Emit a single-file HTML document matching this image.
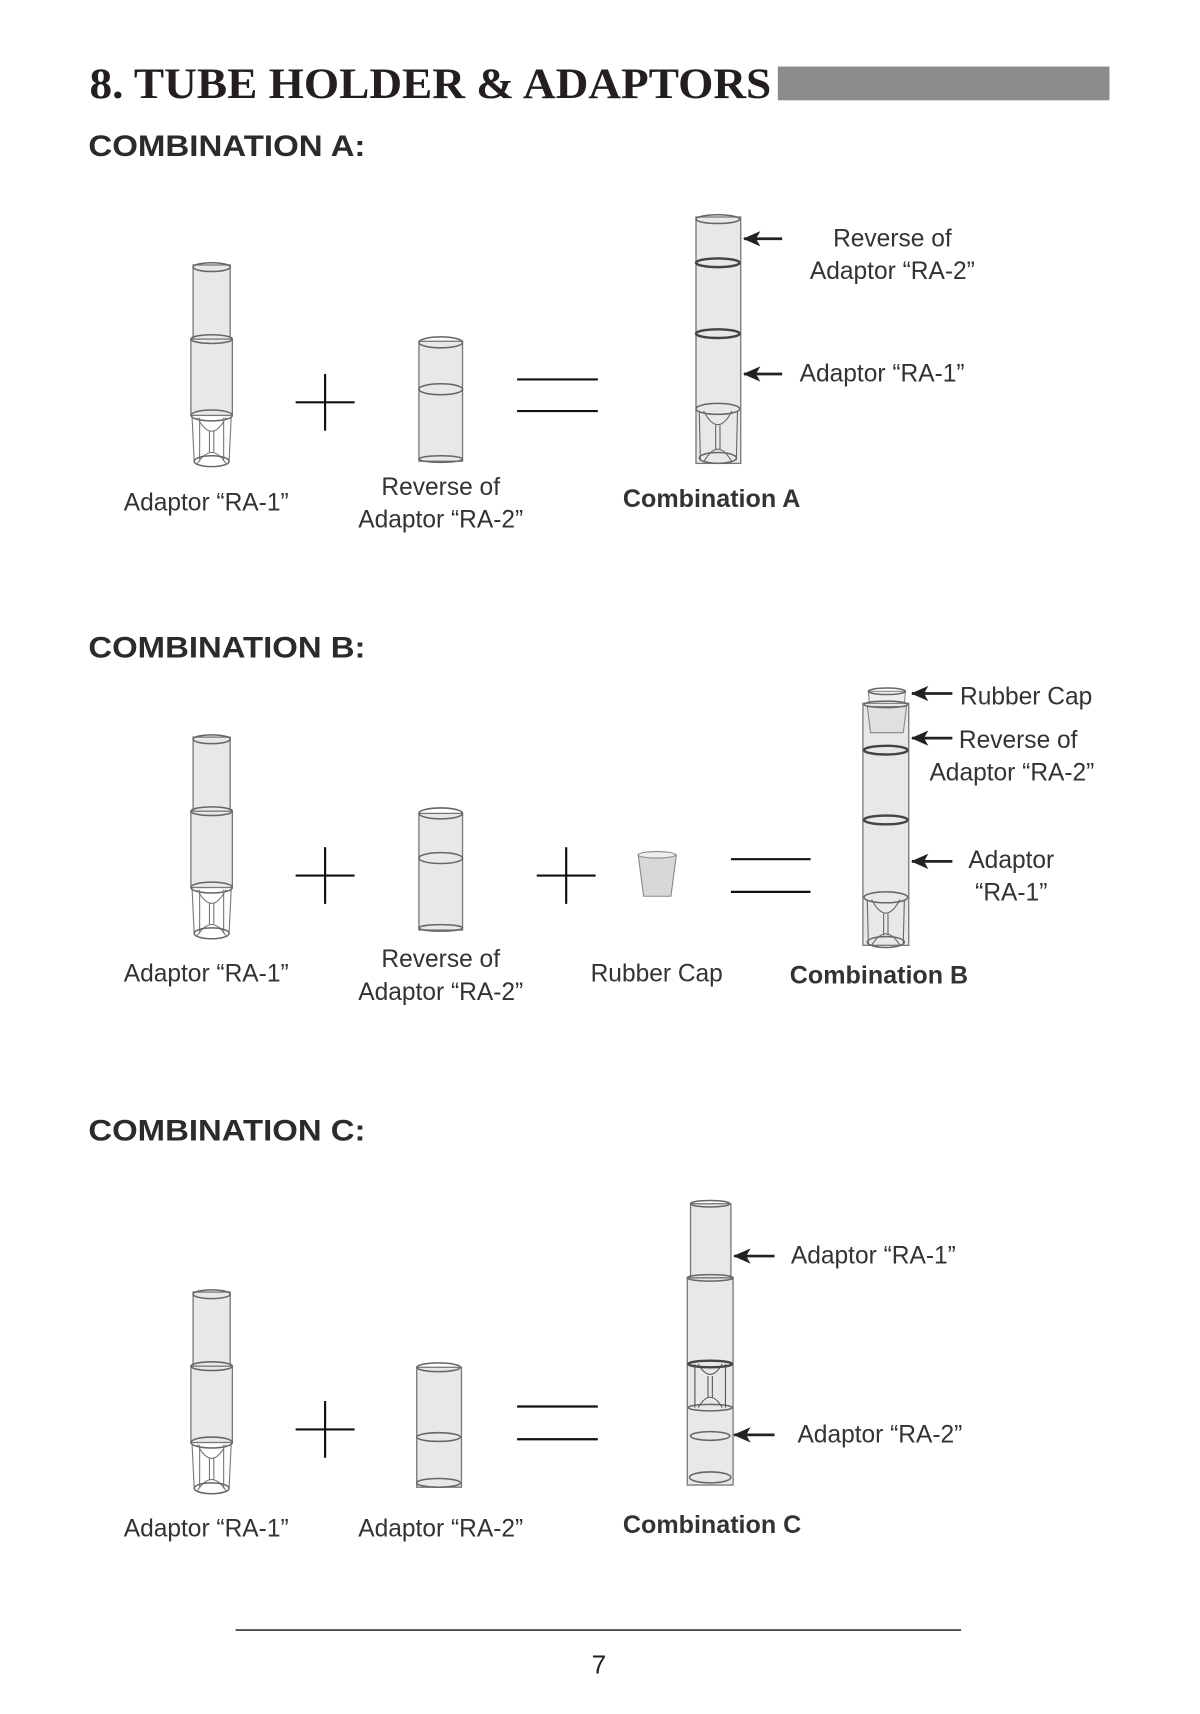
<!DOCTYPE html>
<html><head><meta charset="utf-8"><style>
html,body{margin:0;padding:0;background:#fff;}
svg{display:block;}
text{fill:#231f20;}
.t{font-family:"Liberation Sans",sans-serif;font-size:22.5px;fill:#333;}
.b{font-family:"Liberation Sans",sans-serif;font-size:23px;font-weight:bold;fill:#333;}
.h{font-family:"Liberation Sans",sans-serif;font-size:27px;font-weight:bold;fill:#2b2b2b;}
.tube{fill:#e8e8e8;stroke:#777;stroke-width:1.2;}
.ring{fill:none;stroke:#666;stroke-width:1.4;}
.dk{fill:none;stroke:#444;stroke-width:2.2;}
.ln{stroke:#111;stroke-width:2;}
</style></head><body>
<svg width="1200" height="1714" viewBox="0 0 1100 1572" preserveAspectRatio="none" xmlns="http://www.w3.org/2000/svg">
<defs>
<marker id="ah" markerWidth="18" markerHeight="16" refX="15" refY="7" orient="auto" markerUnits="userSpaceOnUse">
<path d="M0,0 L16,7 L0,14 L4,7 Z" fill="#222"/>
</marker>
<g id="ra1">
<rect class="tube" x="2" y="0" width="34" height="70"/>
<ellipse class="ring" cx="19" cy="2" rx="17" ry="4"/>
<rect class="tube" x="0" y="68" width="38" height="70"/>
<ellipse class="ring" cx="19" cy="68" rx="19" ry="4"/>
<ellipse class="ring" cx="19" cy="138" rx="19" ry="5"/>
<path d="M1,138 L3,180 M37,138 L35,180 M8,140 L8,180 M30,140 L30,180 M17,152 L17,172 M21,152 L21,172" stroke="#777" fill="none" stroke-width="1"/>
<path d="M6,140 Q19,165 32,140 M6,182 Q19,162 32,182" stroke="#777" fill="none"/>
<ellipse class="ring" cx="19" cy="180" rx="16" ry="5"/>
</g>
</defs>

<text x="82" y="90" font-family="Liberation Serif,serif" font-weight="bold" font-size="40" textLength="625" lengthAdjust="spacingAndGlyphs">8. TUBE HOLDER &amp; ADAPTORS</text>
<rect x="713" y="61" width="304" height="31" fill="#8c8c8c"/>

<!-- A -->
<text class="h" x="81" y="143" textLength="254" lengthAdjust="spacingAndGlyphs">COMBINATION A:</text>
<use href="#ra1" x="175" y="243"/>
<line class="ln" x1="298" y1="343" x2="298" y2="395"/><line class="ln" x1="271" y1="369" x2="325" y2="369"/>
<rect class="tube" x="384" y="313" width="40" height="110"/>
<ellipse class="ring" cx="404" cy="314" rx="20" ry="5"/>
<ellipse class="ring" cx="404" cy="357" rx="20" ry="5"/>
<ellipse class="ring" cx="404" cy="421" rx="20" ry="3"/>
<line class="ln" x1="474" y1="348" x2="548" y2="348"/><line class="ln" x1="474" y1="377" x2="548" y2="377"/>
<rect class="tube" x="638" y="199" width="41" height="226"/>
<ellipse class="ring" cx="658" cy="201" rx="20" ry="4"/>
<ellipse class="dk" cx="658" cy="241" rx="20" ry="4"/>
<ellipse class="dk" cx="658" cy="306" rx="20" ry="4"/>
<ellipse class="ring" cx="658" cy="375" rx="20" ry="5"/>
<path d="M641,377 L642,422 M676,377 L675,422 M656,390 L656,412 M660,390 L660,412 M645,377 Q658,402 671,377 M645,424 Q658,400 671,424" stroke="#666" fill="none"/>
<ellipse class="ring" cx="658" cy="420" rx="17" ry="5"/>
<line x1="717" y1="219" x2="682" y2="219" stroke="#222" stroke-width="2.5" marker-end="url(#ah)"/>
<line x1="717" y1="343" x2="682" y2="343" stroke="#222" stroke-width="2.5" marker-end="url(#ah)"/>
<text class="t" x="818" y="226" text-anchor="middle">Reverse of</text>
<text class="t" x="818" y="256" text-anchor="middle">Adaptor “RA-2”</text>
<text class="t" x="733" y="350">Adaptor “RA-1”</text>
<text class="t" x="189" y="468" text-anchor="middle">Adaptor “RA-1”</text>
<text class="t" x="404" y="454" text-anchor="middle">Reverse of</text>
<text class="t" x="404" y="484" text-anchor="middle">Adaptor “RA-2”</text>
<text class="b" x="571" y="465">Combination A</text>

<!-- B -->
<text class="h" x="81" y="603" textLength="254" lengthAdjust="spacingAndGlyphs">COMBINATION B:</text>
<use href="#ra1" x="175" y="676"/>
<line class="ln" x1="298" y1="777" x2="298" y2="829"/><line class="ln" x1="271" y1="803" x2="325" y2="803"/>
<rect class="tube" x="384" y="746" width="40" height="107"/>
<ellipse class="ring" cx="404" cy="746" rx="20" ry="5"/>
<ellipse class="ring" cx="404" cy="787" rx="20" ry="5"/>
<ellipse class="ring" cx="404" cy="851" rx="20" ry="3"/>
<line class="ln" x1="519" y1="777" x2="519" y2="829"/><line class="ln" x1="492" y1="803" x2="546" y2="803"/>
<path d="M585,784 L620,784 L615,822 L590,822 Z" fill="#d8d8d8" stroke="#888"/>
<ellipse cx="602" cy="784" rx="17" ry="3" fill="#eee" stroke="#888"/>
<line class="ln" x1="670" y1="788" x2="743" y2="788"/><line class="ln" x1="670" y1="818" x2="743" y2="818"/>
<rect class="tube" x="791" y="645" width="42" height="222"/>
<path d="M796,634 L830,634 L829,645 L797,645 Z" fill="#eee" stroke="#888"/>
<ellipse class="ring" cx="813" cy="634" rx="17" ry="3"/>
<path d="M795,648 L831,648 L828,672 L798,672 Z" fill="#e0e0e0" stroke="#888"/>
<ellipse class="ring" cx="812" cy="646" rx="20" ry="3"/>
<ellipse class="dk" cx="812" cy="688" rx="20" ry="4"/>
<ellipse class="dk" cx="812" cy="752" rx="20" ry="4"/>
<ellipse class="ring" cx="812" cy="823" rx="20" ry="5"/>
<path d="M795,825 L796,865 M829,825 L828,865 M810,838 L810,858 M814,838 L814,858 M799,825 Q812,850 825,825 M799,867 Q812,846 825,867" stroke="#666" fill="none"/>
<ellipse class="ring" cx="812" cy="864" rx="17" ry="5"/>
<line x1="873" y1="636" x2="836" y2="636" stroke="#222" stroke-width="2.5" marker-end="url(#ah)"/>
<line x1="873" y1="677" x2="836" y2="677" stroke="#222" stroke-width="2.5" marker-end="url(#ah)"/>
<line x1="873" y1="790" x2="836" y2="790" stroke="#222" stroke-width="2.5" marker-end="url(#ah)"/>
<text class="t" x="880" y="646">Rubber Cap</text>
<text class="t" x="879" y="686">Reverse of</text>
<text class="t" x="852" y="716">Adaptor “RA-2”</text>
<text class="t" x="927" y="796" text-anchor="middle">Adaptor</text>
<text class="t" x="927" y="826" text-anchor="middle">“RA-1”</text>
<text class="t" x="189" y="900" text-anchor="middle">Adaptor “RA-1”</text>
<text class="t" x="404" y="887" text-anchor="middle">Reverse of</text>
<text class="t" x="404" y="917" text-anchor="middle">Adaptor “RA-2”</text>
<text class="t" x="602" y="900" text-anchor="middle">Rubber Cap</text>
<text class="b" x="724" y="902">Combination B</text>

<!-- C -->
<text class="h" x="81" y="1046" textLength="254" lengthAdjust="spacingAndGlyphs">COMBINATION C:</text>
<use href="#ra1" x="175" y="1185"/>
<line class="ln" x1="298" y1="1285" x2="298" y2="1337"/><line class="ln" x1="271" y1="1311" x2="325" y2="1311"/>
<rect class="tube" x="382" y="1254" width="41" height="110"/>
<ellipse class="ring" cx="402" cy="1254" rx="20" ry="4"/>
<ellipse class="ring" cx="402" cy="1318" rx="20" ry="4"/>
<ellipse class="ring" cx="402" cy="1360" rx="20" ry="4"/>
<line class="ln" x1="474" y1="1290" x2="548" y2="1290"/><line class="ln" x1="474" y1="1320" x2="548" y2="1320"/>
<rect class="tube" x="633" y="1104" width="37" height="68"/>
<ellipse class="ring" cx="651" cy="1104" rx="18" ry="3"/>
<rect class="tube" x="630" y="1172" width="42" height="190"/>
<ellipse class="ring" cx="651" cy="1172" rx="21" ry="3"/>
<ellipse class="dk" cx="651" cy="1251" rx="20" ry="3"/>
<ellipse class="ring" cx="651" cy="1291" rx="20" ry="3"/>
<path d="M637,1251 L637,1291 M665,1251 L665,1291 M649,1262 L649,1282 M653,1262 L653,1282 M640,1251 Q651,1270 662,1251 M640,1291 Q651,1272 662,1291" stroke="#555" fill="none"/>
<ellipse class="ring" cx="651" cy="1317" rx="18" ry="4"/>
<ellipse class="ring" cx="651" cy="1355" rx="19" ry="5"/>
<line x1="710" y1="1152" x2="673" y2="1152" stroke="#222" stroke-width="2.5" marker-end="url(#ah)"/>
<line x1="710" y1="1316" x2="673" y2="1316" stroke="#222" stroke-width="2.5" marker-end="url(#ah)"/>
<text class="t" x="725" y="1159">Adaptor “RA-1”</text>
<text class="t" x="731" y="1323">Adaptor “RA-2”</text>
<text class="t" x="189" y="1409" text-anchor="middle">Adaptor “RA-1”</text>
<text class="t" x="404" y="1409" text-anchor="middle">Adaptor “RA-2”</text>
<text class="b" x="571" y="1406">Combination C</text>

<line x1="216" y1="1495" x2="881" y2="1495" stroke="#333" stroke-width="1.5"/>
<text x="549" y="1535" text-anchor="middle" font-family="Liberation Sans,sans-serif" font-size="24" fill="#333">7</text>
</svg>
</body></html>
